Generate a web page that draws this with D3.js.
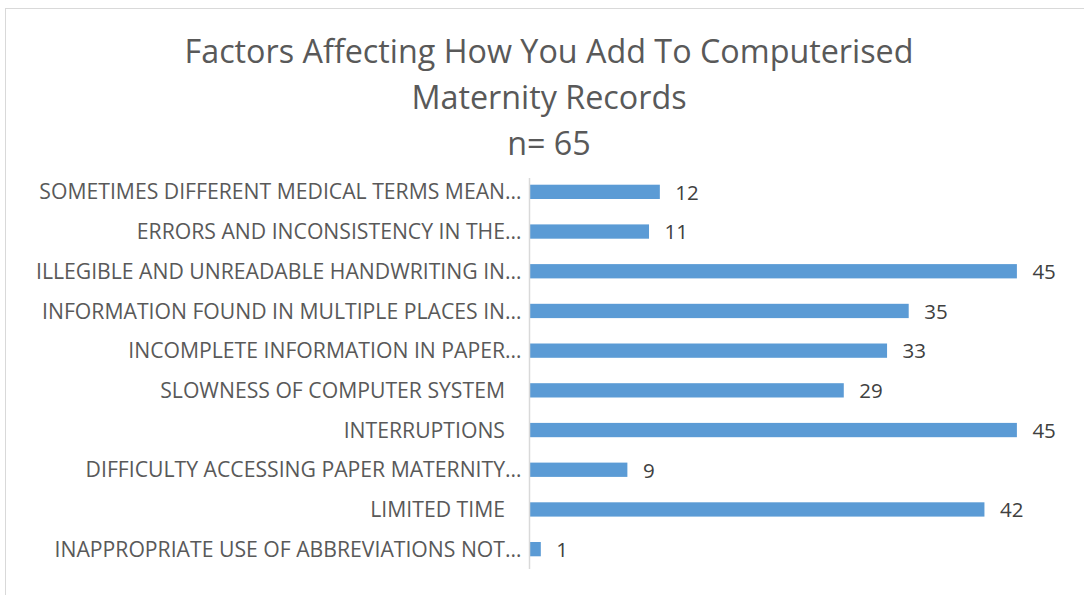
<!DOCTYPE html>
<html><head><meta charset="utf-8">
<script src="https://cdn.jsdelivr.net/npm/d3@7"></script>
<style>body{margin:0;background:#fff;} svg{display:block;} text{white-space:pre;}</style>
</head><body>
<script>
const categories = [
  "SOMETIMES DIFFERENT MEDICAL TERMS MEAN…",
  "ERRORS AND INCONSISTENCY IN THE…",
  "ILLEGIBLE AND UNREADABLE HANDWRITING IN…",
  "INFORMATION FOUND IN MULTIPLE PLACES IN…",
  "INCOMPLETE INFORMATION IN PAPER…",
  "SLOWNESS OF COMPUTER SYSTEM   ",
  "INTERRUPTIONS   ",
  "DIFFICULTY ACCESSING PAPER MATERNITY…",
  "LIMITED TIME   ",
  "INAPPROPRIATE USE OF ABBREVIATIONS NOT…"
];
const values = [12, 11, 45, 35, 33, 29, 45, 9, 42, 1];
const titleLines = ["Factors Affecting How You Add To Computerised", "Maternity Records", "n= 65"];

const W = 1084, H = 595;
const svg = d3.select("body").append("svg").attr("width", W).attr("height", H);
const font = "'Open Sans', sans-serif";

svg.append("rect").attr("x", 5.5).attr("y", 8.5).attr("width", 1100).attr("height", 700)
  .attr("fill", "#fff").attr("stroke", "#d9d9d9").attr("stroke-width", 1);

const titleY = [63, 109, 155];
svg.selectAll("text.title").data(titleLines).join("text")
  .attr("class", "title").attr("x", 549).attr("y", (d, i) => titleY[i])
  .attr("text-anchor", "middle").attr("fill", "#595959")
  .style("font-family", font).style("font-size", "32.3px").text(d => d);

const x0 = 529.5;
const x = d3.scaleLinear().domain([0, 50]).range([x0, x0 + 541]);
const y = d3.scaleBand().domain(categories).range([172, 569]).paddingInner(0.64).paddingOuter(0.32);

svg.selectAll("rect.bar").data(values).join("rect").attr("class", "bar")
  .attr("x", x(0) + 0.5).attr("y", (d, i) => y(categories[i]))
  .attr("width", d => x(d) - x(0)).attr("height", y.bandwidth())
  .attr("fill", "#5b9bd5");

const yAxis = svg.append("g").attr("transform", `translate(${x0},0)`)
  .call(d3.axisLeft(y).tickSize(0).tickPadding(8));
yAxis.select(".domain").attr("stroke", "#d9d9d9").attr("stroke-width", 1.5)
  .attr("d", "M0,178V569");
yAxis.selectAll("text").attr("fill", "#595959")
  .style("font-family", font).style("font-size", "21.2px").attr("dy", "0.36em");

svg.selectAll("text.val").data(values).join("text").attr("class", "val")
  .attr("x", d => x(d) + 16).attr("y", (d, i) => y(categories[i]) + y.bandwidth() / 2)
  .attr("dy", "0.38em").attr("fill", "#404040")
  .style("font-family", font).style("font-size", "20.5px").text(d => d);
</script>
</body></html>
